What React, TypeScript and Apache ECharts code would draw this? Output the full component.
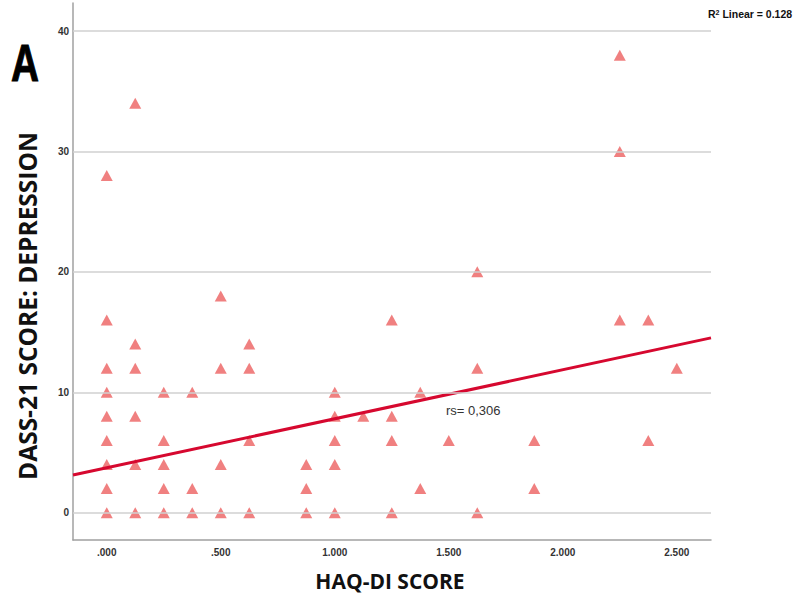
import React, { useEffect, useRef } from "react";
import * as echarts from "echarts";

// HAQ-DI score (x) and DASS-21 depression score (y) for each participant
const HAQ_DI = [
  0, 0, 0, 0, 0, 0, 0, 0, 0,
  0.125, 0.125, 0.125, 0.125, 0.125, 0.125,
  0.25, 0.25, 0.25, 0.25, 0.25,
  0.375, 0.375, 0.375,
  0.5, 0.5, 0.5, 0.5,
  0.625, 0.625, 0.625, 0.625,
  0.875, 0.875, 0.875,
  1.0, 1.0, 1.0, 1.0, 1.0,
  1.125,
  1.25, 1.25, 1.25, 1.25,
  1.375, 1.375,
  1.5,
  1.625, 1.625, 1.625,
  1.875, 1.875,
  2.25, 2.25, 2.25,
  2.375, 2.375,
  2.5,
];
const DASS_DEPRESSION = [
  28, 16, 12, 10, 8, 6, 4, 2, 0,
  34, 14, 12, 8, 4, 0,
  10, 6, 4, 2, 0,
  10, 2, 0,
  18, 12, 4, 0,
  14, 12, 6, 0,
  4, 2, 0,
  10, 8, 6, 4, 0,
  8,
  16, 8, 6, 0,
  10, 2,
  6,
  20, 12, 0,
  6, 2,
  38, 30, 16,
  16, 6,
  12,
];

// Axis ticks and labels
const X_TICKS = [0, 0.5, 1.0, 1.5, 2.0, 2.5];
const X_TICK_LABELS = [".000", ".500", "1.000", "1.500", "2.000", "2.500"];
const Y_TICKS = [0, 10, 20, 30, 40];
const Y_TICK_LABELS = ["0", "10", "20", "30", "40"];

// Axis ranges
const X_MIN = -0.148;
const X_MAX = 2.65;
const Y_MIN = -2.27;
const Y_MAX = 42.33;

// Linear fit
const FIT_INTERCEPT = 3.73;
const FIT_SLOPE = 4.07;
const R2_TEXT = "0.128";
const RS_TEXT = "rs= 0,306";

export default function App() {
  const ref = useRef<HTMLDivElement>(null);

  useEffect(() => {
    if (!ref.current) return;
    const chart = echarts.init(ref.current, null, { renderer: "svg" });

    const points = HAQ_DI.map((x, i) => [x, DASS_DEPRESSION[i]]);
    const fitLine = [
      [X_MIN, FIT_INTERCEPT + FIT_SLOPE * X_MIN],
      [X_MAX, FIT_INTERCEPT + FIT_SLOPE * X_MAX],
    ];
    const labelFor = (ticks: number[], labels: string[]) => (v: number) => {
      const i = ticks.findIndex((t) => Math.abs(t - v) < 1e-6);
      return i >= 0 ? labels[i] : "";
    };

    const option: any = {
      animation: false,
      backgroundColor: "#ffffff",
      grid: { left: 73, right: 87, top: 3, bottom: 66 },
      xAxis: {
        type: "value",
        min: X_MIN,
        max: X_MAX,
        axisLine: { show: true, onZero: false, lineStyle: { color: "#a0a0a0", width: 1.5 } },
        axisTick: { show: false },
        splitLine: { show: false },
        axisLabel: {
          customValues: X_TICKS,
          formatter: labelFor(X_TICKS, X_TICK_LABELS),
          margin: 7,
          fontSize: 10,
          fontWeight: "bold",
          color: "#333",
          fontFamily: "Liberation Sans",
        },
      },
      yAxis: {
        type: "value",
        min: Y_MIN,
        max: Y_MAX,
        axisLine: { show: true, onZero: false, lineStyle: { color: "#a0a0a0", width: 1.5 } },
        axisTick: { show: false },
        splitLine: { show: false },
        axisLabel: {
          customValues: Y_TICKS,
          formatter: labelFor(Y_TICKS, Y_TICK_LABELS),
          margin: 4,
          fontSize: 10,
          fontWeight: "bold",
          color: "#333",
          fontFamily: "Liberation Sans",
        },
      },
      series: [
        {
          type: "line",
          data: [],
          silent: true,
          z: 1,
          markLine: {
            silent: true,
            symbol: "none",
            label: { show: false },
            lineStyle: { color: "#d0d0d0", width: 1.5, type: "solid" },
            data: Y_TICKS.map((v) => ({ yAxis: v })),
          },
        },
        {
          type: "scatter",
          data: points,
          symbol: "triangle",
          symbolSize: [12, 11],
          itemStyle: { color: "#f08080", opacity: 1 },
          z: 3,
        },
        {
          type: "line",
          data: fitLine,
          symbol: "none",
          silent: true,
          lineStyle: { color: "#d6082f", width: 3 },
          z: 4,
        },
      ],
      graphic: [
        {
          type: "text",
          x: 11,
          y: 64,
          scaleX: 0.76,
          style: {
            text: "A",
            fontSize: 51,
            fontWeight: "bold",
            fontFamily: "Liberation Sans",
            fill: "#000",
            stroke: "#000",
            lineWidth: 1,
            textAlign: "left",
            textVerticalAlign: "middle",
          },
        },
        {
          type: "text",
          x: 27,
          y: 306,
          rotation: Math.PI / 2,
          style: {
            text: "DASS-21 SCORE: DEPRESSION",
            fontSize: 24.5,
            fontWeight: "bold",
            fontFamily: "Open Sans",
            fill: "#111",
            textAlign: "center",
            textVerticalAlign: "middle",
          },
        },
        {
          type: "text",
          x: 390,
          y: 581,
          style: {
            text: "HAQ-DI SCORE",
            fontSize: 21,
            fontWeight: "bold",
            fontFamily: "Open Sans",
            fill: "#111",
            textAlign: "center",
            textVerticalAlign: "middle",
          },
        },
        {
          type: "text",
          x: 708,
          y: 14,
          style: {
            text: "{r|R}{s|2}{r| Linear = " + R2_TEXT + "}",
            rich: {
              r: { fontSize: 10.5, fontWeight: "bold", fontFamily: "Liberation Sans", fill: "#111", color: "#111" },
              s: { fontSize: 7, fontWeight: "bold", fontFamily: "Liberation Sans", fill: "#111", color: "#111", verticalAlign: "top", padding: [0, 0, 4, 0] },
            },
            textAlign: "left",
            textVerticalAlign: "middle",
          },
        },
        {
          type: "text",
          x: 446,
          y: 410,
          style: {
            text: RS_TEXT,
            fontSize: 13,
            fontFamily: "Liberation Sans",
            fill: "#333",
            textAlign: "left",
            textVerticalAlign: "middle",
          },
        },
      ],
    };

    chart.setOption(option);
    return () => chart.dispose();
  }, []);

  return (
    <div
      ref={ref}
      style={{ position: "fixed", left: 0, top: 0, width: 798, height: 606 }}
    />
  );
}
